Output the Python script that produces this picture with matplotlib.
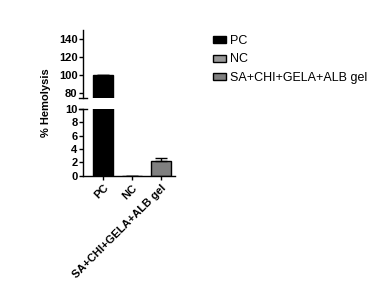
import matplotlib
matplotlib.use('Agg')
import matplotlib.pyplot as plt
from matplotlib.patches import Patch

plt.rcParams['font.family'] = ['Liberation Sans', 'DejaVu Sans']

groups = ['PC', 'NC', 'SA+CHI+GELA+ALB gel']
hemolysis = [100, 0, 2.2]
err_up = [0, 0, 0.4]
colors = ['#000000', '#999999', '#808080']

W, H = 379, 296
fig = plt.figure(figsize=(W / 100, H / 100), dpi=100)

def px_axes(x0, y0, x1, y1):
    return fig.add_axes([x0 / W, 1 - y1 / H, (x1 - x0) / W, (y1 - y0) / H])

ax_top = px_axes(83, 30, 175, 97.7)
ax_bot = px_axes(83, 109, 175, 175.7)

x = list(range(len(groups)))
for ax in (ax_top, ax_bot):
    ax.bar(x, hemolysis, width=0.66, color=colors, edgecolor='black', linewidth=1.0)
    ax.errorbar(x, hemolysis, yerr=[[0] * 3, err_up], fmt='none', ecolor='black',
                elinewidth=1.0, capsize=4, capthick=1.0)
    ax.set_xlim(-0.69, 2.48)
    for s in ('top', 'right'):
        ax.spines[s].set_visible(False)
    ax.spines['left'].set_linewidth(1.0)
    ax.spines['bottom'].set_linewidth(1.0)
    ax.tick_params(axis='y', labelsize=8, width=1.0, length=3, pad=1)

ax_top.set_ylim(75, 150)
ax_top.set_yticks([80, 100, 120, 140])
ax_top.spines['bottom'].set_visible(False)
ax_top.tick_params(axis='x', bottom=False, labelbottom=False)
for lbl in ax_top.get_yticklabels():
    lbl.set_fontweight('bold')

ax_bot.set_ylim(0, 10)
ax_bot.set_yticks([0, 2, 4, 6, 8, 10])
for lbl in ax_bot.get_yticklabels():
    lbl.set_fontweight('bold')
ax_bot.set_xticks(x)
ax_bot.set_xticklabels(groups, rotation=45, ha='right', rotation_mode='anchor',
                       fontsize=8, fontweight='bold')
ax_bot.tick_params(axis='x', width=1.0, length=3, pad=2)

# break marks
ax_top.plot([-0.04, 0.04], [0, 0], transform=ax_top.transAxes, color='black',
            lw=1.0, clip_on=False)
ax_bot.plot([-0.04, 0.04], [1, 1], transform=ax_bot.transAxes, color='black',
            lw=1.0, clip_on=False)

fig.text(46 / W, 1 - 103 / H, '% Hemolysis', rotation=90, ha='center', va='center',
         fontsize=8, fontweight='bold')

handles = [Patch(facecolor=c, edgecolor='black', linewidth=1.0) for c in colors]
fig.legend(handles, groups, loc='upper left', bbox_to_anchor=(202 / W, 1 - 24 / H),
           frameon=False, fontsize=9, handlelength=1.0, handleheight=0.5,
           labelspacing=0.5, handletextpad=0.35)

fig.savefig('out.png', dpi=100)
